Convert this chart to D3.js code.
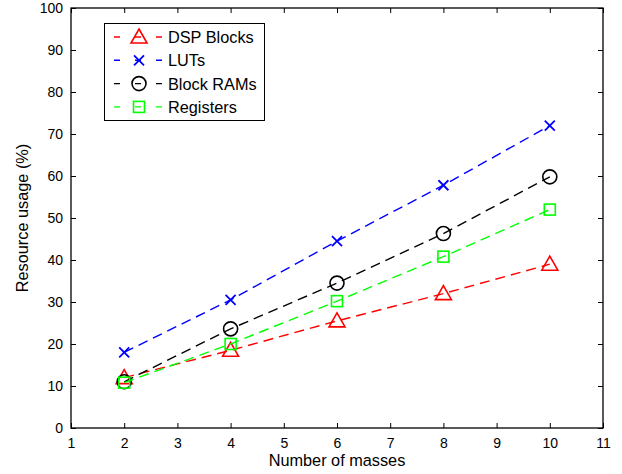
<!DOCTYPE html>
<html>
<head>
<meta charset="utf-8">
<script src="https://d3js.org/d3.v7.min.js"></script>
<style>
  body { margin: 0; background: #fff; }
  text { font-family: "Liberation Sans", Arial, sans-serif; }
</style>
</head>
<body>
<div id="chart"></div>
<script>
// data
var masses = [2, 4, 6, 8, 10];
var dspBlocks = [12, 18.5, 25.5, 32, 39];
var luts = [18, 30.5, 44.5, 57.8, 72];
var blockRams = [11, 23.6, 34.5, 46.3, 59.8];
var registers = [10.8, 20, 30.2, 40.8, 52];
var xTicks = [1, 2, 3, 4, 5, 6, 7, 8, 9, 10, 11];
var yTicks = [0, 10, 20, 30, 40, 50, 60, 70, 80, 90, 100];

var series = [
  { name: "DSP Blocks", values: dspBlocks, color: "#ff0000", marker: "triangle" },
  { name: "LUTs", values: luts, color: "#0000ff", marker: "x" },
  { name: "Block RAMs", values: blockRams, color: "#000000", marker: "circle" },
  { name: "Registers", values: registers, color: "#00ff00", marker: "square" }
];

var W = 622, H = 474;
var pLeft = 71, pRight = 603, pTop = 8, pBottom = 428;

var svg = d3.select("#chart").append("svg")
  .attr("width", W).attr("height", H);

var x = d3.scaleLinear().domain([1, 11]).range([pLeft, pRight]);
var y = d3.scaleLinear().domain([0, 100]).range([pBottom, pTop]);

// axes (matlab style: ticks inside, box all round)
svg.append("g").attr("transform", "translate(0," + pBottom + ")")
  .call(d3.axisBottom(x).tickValues(xTicks).tickSizeInner(-5).tickSizeOuter(0).tickPadding(10));
svg.append("g").attr("transform", "translate(" + pLeft + ",0)")
  .call(d3.axisLeft(y).tickValues(yTicks).tickSizeInner(-5).tickSizeOuter(0).tickPadding(8));
svg.append("g").attr("transform", "translate(0," + pTop + ")")
  .call(d3.axisTop(x).tickValues(xTicks).tickSizeInner(-5).tickSizeOuter(0).tickFormat(""));
svg.append("g").attr("transform", "translate(" + pRight + ",0)")
  .call(d3.axisRight(y).tickValues(yTicks).tickSizeInner(-5).tickSizeOuter(0).tickFormat(""));

svg.selectAll(".domain").remove();
svg.selectAll(".tick line").attr("stroke", "#000").attr("stroke-width", 1);
svg.selectAll(".tick text").attr("font-size", 14).attr("fill", "#000");

svg.append("rect")
  .attr("x", pLeft).attr("y", pTop)
  .attr("width", pRight - pLeft).attr("height", pBottom - pTop)
  .attr("fill", "none").attr("stroke", "#000").attr("stroke-width", 1.3);

svg.append("text")
  .attr("x", (pLeft + pRight) / 2).attr("y", 466)
  .attr("text-anchor", "middle").attr("font-size", 16.3)
  .text("Number of masses");
svg.append("text")
  .attr("transform", "translate(28," + (pTop + pBottom) / 2 + ") rotate(-90)")
  .attr("text-anchor", "middle").attr("font-size", 16.3)
  .text("Resource usage (%)");

function drawMarker(g, type, cx, cy, color) {
  if (type === "triangle") {
    g.append("path")
      .attr("d", "M" + cx + "," + (cy - 8) + "L" + (cx + 8) + "," + (cy + 6) + "L" + (cx - 8) + "," + (cy + 6) + "Z")
      .attr("fill", "none").attr("stroke", color).attr("stroke-width", 1.6);
  } else if (type === "x") {
    g.append("path")
      .attr("d", "M" + (cx - 5) + "," + (cy - 5) + "L" + (cx + 5) + "," + (cy + 5) +
        "M" + (cx + 5) + "," + (cy - 5) + "L" + (cx - 5) + "," + (cy + 5))
      .attr("stroke", color).attr("stroke-width", 1.8);
  } else if (type === "circle") {
    g.append("circle").attr("cx", cx).attr("cy", cy).attr("r", 7)
      .attr("fill", "none").attr("stroke", color).attr("stroke-width", 1.6);
  } else {
    g.append("rect").attr("x", cx - 5.5).attr("y", cy - 5.5)
      .attr("width", 11).attr("height", 11)
      .attr("fill", "none").attr("stroke", color).attr("stroke-width", 1.6);
  }
}

var line = d3.line()
  .x(function (d) { return x(d[0]); })
  .y(function (d) { return y(d[1]); });

series.forEach(function (s) {
  var pts = masses.map(function (m, i) { return [m, s.values[i]]; });
  var g = svg.append("g");
  g.append("path").datum(pts)
    .attr("d", line)
    .attr("fill", "none").attr("stroke", s.color)
    .attr("stroke-width", 1.4).attr("stroke-dasharray", "10,6");
  pts.forEach(function (p) {
    drawMarker(g, s.marker, x(p[0]), y(p[1]), s.color);
  });
});

// legend
var lg = svg.append("g");
lg.append("rect").attr("x", 104.5).attr("y", 23.5).attr("width", 160).attr("height", 97)
  .attr("fill", "#fff").attr("stroke", "#000").attr("stroke-width", 1);
series.forEach(function (s, i) {
  var ry = 37 + i * 23.3;
  lg.append("line").attr("x1", 114).attr("x2", 162).attr("y1", ry).attr("y2", ry)
    .attr("stroke", s.color).attr("stroke-width", 1.4).attr("stroke-dasharray", "6,15");
  drawMarker(lg, s.marker, 139, ry, s.color);
  lg.append("text").attr("x", 168).attr("y", ry + 6)
    .attr("font-size", 16.3).text(s.name);
});
</script>
</body>
</html>
